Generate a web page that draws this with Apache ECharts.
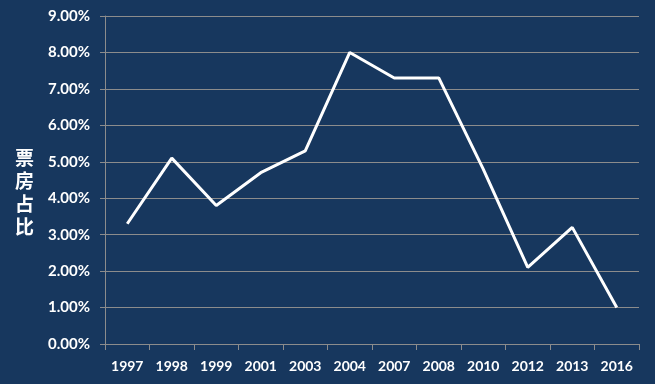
<!DOCTYPE html>
<html>
<head>
<meta charset="utf-8">
<script src="https://cdn.jsdelivr.net/npm/echarts@6/dist/echarts.min.js"></script>
<style>
  html, body { margin: 0; padding: 0; background: #17375e; }
  #main { width: 655px; height: 384px; }
</style>
</head>
<body>
<div id="main"></div>
<script>
var years = ['1997', '1998', '1999', '2001', '2003', '2004', '2007', '2008', '2010', '2012', '2013', '2016'];
var share = [3.3, 5.1, 3.8, 4.7, 5.3, 8.0, 7.3, 7.3, 4.8, 2.1, 3.2, 1.0];
var yTitle = '票\n房\n占\n比';

var chart = echarts.init(document.getElementById('main'));
var option = {
    backgroundColor: '#17375e',
    grid: { left: 105, right: 16, top: 16, bottom: 40 },
    graphic: [{
        type: 'text',
        left: 15,
        top: 146,
        style: {
            text: yTitle,
            fill: '#fff',
            fontSize: 19,
            fontWeight: 'bold',
            lineHeight: 23,
            fontFamily: 'Noto Sans CJK SC'
        }
    }],
    xAxis: {
        type: 'category',
        data: years,
        boundaryGap: true,
        axisLine: { lineStyle: { color: '#8c8c8c', width: 1 } },
        axisTick: { show: true, length: 6, lineStyle: { color: '#8c8c8c' } },
        axisLabel: { color: '#fff', fontWeight: 'bold', fontSize: 14, fontFamily: 'Lato', margin: 15 }
    },
    yAxis: {
        type: 'value',
        min: 0,
        max: 9,
        interval: 1,
        axisLine: { show: true, lineStyle: { color: '#8c8c8c', width: 1 } },
        axisTick: { show: true, length: 5, lineStyle: { color: '#8c8c8c' } },
        splitLine: { lineStyle: { color: '#8c8c8c', width: 1 } },
        axisLabel: {
            color: '#fff', fontWeight: 'bold', fontSize: 15, fontFamily: 'Lato', margin: 15,
            formatter: function (v) { return v.toFixed(2) + '%'; }
        }
    },
    series: [{
        type: 'line',
        data: share,
        symbol: 'none',
        lineStyle: { color: '#fff', width: 3 },
        animation: false
    }]
};
chart.setOption(option);
window.onresize = chart.resize;
</script>
</body>
</html>
